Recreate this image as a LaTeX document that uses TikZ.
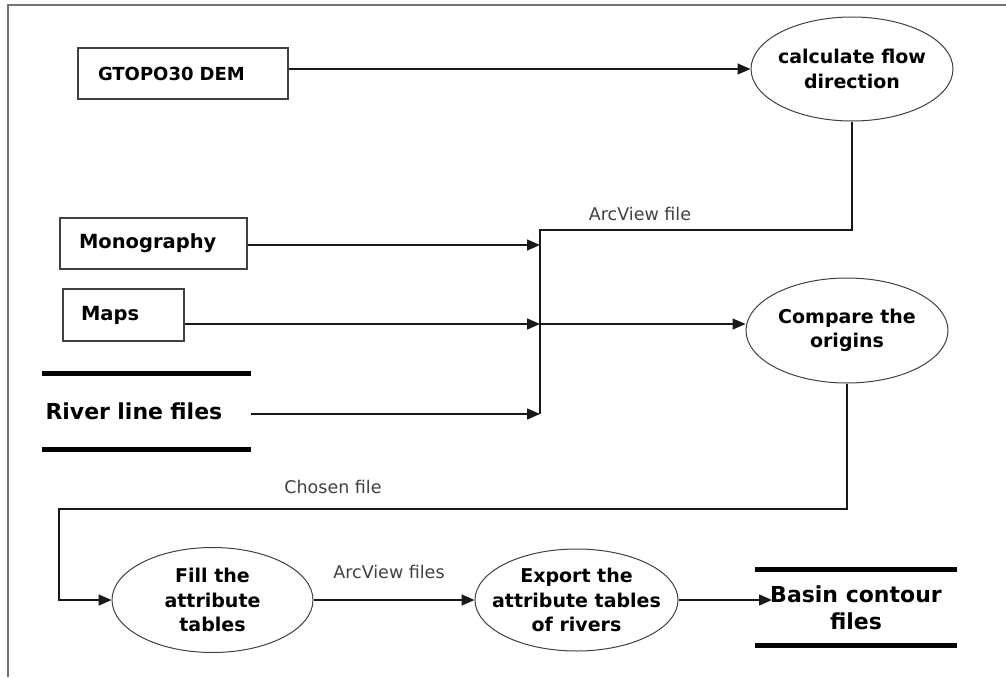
\documentclass[tikz,border=0pt]{standalone}
\usepackage{fontspec}
\setmainfont{DejaVu Sans}
\usetikzlibrary{arrows.meta,shapes.geometric,calc}
\begin{document}
\begin{tikzpicture}[x=1pt,y=-1pt,
  conn/.style={line width=1.5pt,draw=black!90},
  arr/.style={conn,-{Triangle[length=13pt,width=11pt]}},
  srcbox/.style={draw=black!75,line width=1.1pt,rectangle,align=left,font=\fontsize{19.5}{23}\selectfont\bfseries,inner ysep=0pt},
  proc/.style={draw=black!75,line width=1pt,ellipse,inner xsep=-40pt,inner ysep=-15pt,align=center,font=\fontsize{19}{24.5}\selectfont\bfseries},
  store/.style={rectangle,inner ysep=0pt,font=\fontsize{22}{27}\selectfont\bfseries},
  bar/.style={line width=5pt,draw=black},
  lbl/.style={font=\fontsize{17.5}{20}\selectfont,text=black!75},
  frame/.style={draw=black!55,line width=2pt}]
\useasboundingbox (0,0) rectangle (1006,677);
\draw[frame] (8,677) -- (8,5) -- (1006,5);

% sources
\node[srcbox, minimum height=51pt, text width=170pt, inner xsep=20pt, font=\fontsize{18}{22}\selectfont\bfseries] (gtopo) at (183,73.5) {GTOPO30 DEM};
\node[srcbox, minimum height=51pt, text width=149pt, inner xsep=19pt] (mono) at (153.5,243.5) {Monography};
\node[srcbox, minimum height=52pt, text width=85pt, inner xsep=18pt] (maps) at (123.5,315) {Maps};
\node[store, minimum height=75pt, text width=202pt, inner xsep=3pt, align=left] (river) at (146.5,411.5) {\raisebox{-6pt}{River line files}};
\draw[bar] (river.north west) -- (river.north east);
\draw[bar] (river.south west) -- (river.south east);

% processes
\node[proc, minimum width=202pt, minimum height=104pt] (flow) at (852,69) {calculate flow\\direction};
\node[proc, minimum width=202pt, minimum height=105pt] (compare) at (847,330.5) {Compare the\\origins};
\node[proc, minimum width=201pt, minimum height=105pt] (fill) at (212.5,600) {Fill the\\attribute\\tables};
\node[proc, minimum width=203pt, minimum height=102pt] (export) at (576.5,600) {Export the\\attribute tables\\of rivers};

% sink
\node[store, minimum width=202pt, minimum height=75pt, align=center] (basin) at (856,607.5) {Basin contour\\files};
\draw[bar] (basin.north west) -- (basin.north east);
\draw[bar] (basin.south west) -- (basin.south east);

% junction coordinates
\coordinate (bustop) at (540,230);
\coordinate (j1) at (540,245);
\coordinate (j2) at (540,324);
\coordinate (j3) at (540,414);
\coordinate (turn) at (59,509);
\coordinate (bin) at (772,600);

% connectors
\draw[arr] (gtopo.east |- flow.west) -- (flow.west);
\draw[arr] (mono.east |- j1) -- (j1);
\draw[arr] (maps.east |- j2) -- (j2);
\draw[arr] (j2) -- (compare.west |- j2);
\draw[arr] (river.east |- j3) -- (j3);
\draw[conn] (flow.south) |- (bustop) -- (j3);
\draw[arr] (compare.south) |- (turn) |- (fill.west);
\draw[arr] (fill.east) -- (export.west);
\draw[arr] (export.east) -- (export.east -| bin);

% labels
\node[lbl] (l1) at (640,214) {ArcView file};
\node[lbl] (l2) at (333,487) {Chosen file};
\node[lbl] (l3) at (389,572) {ArcView files};
\end{tikzpicture}
\end{document}
